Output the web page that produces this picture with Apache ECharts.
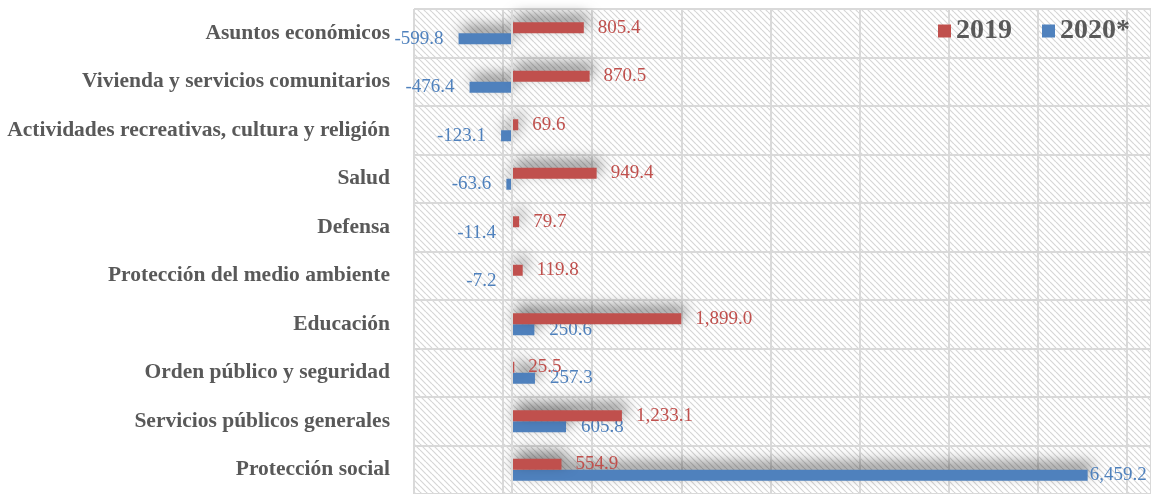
<!DOCTYPE html>
<html>
<head>
<meta charset="utf-8">
<script src="https://cdn.jsdelivr.net/npm/echarts@6/dist/echarts.min.js"></script>
<style>
  html, body { margin: 0; padding: 0; background: #fff; }
  #chart { width: 1151px; height: 494px; }
</style>
</head>
<body>
<div id="chart"></div>
<script>
// categories, top to bottom
const categories = [
    'Asuntos económicos',
    'Vivienda y servicios comunitarios',
    'Actividades recreativas, cultura y religión',
    'Salud',
    'Defensa',
    'Protección del medio ambiente',
    'Educación',
    'Orden público y seguridad',
    'Servicios públicos generales',
    'Protección social'
]
const values2019 = [805.4, 870.5, 69.6, 949.4, 79.7, 119.8, 1899.0, 25.5, 1233.1, 554.9]
const values2020 = [-599.8, -476.4, -123.1, -63.6, -11.4, -7.2, 250.6, 257.3, 605.8, 6459.2]
const seriesNames = ['2019', '2020*']

const SERIF = '"Liberation Serif", "Times New Roman", serif'
const RED = '#C0504D'
const BLUE = '#4F81BD'
const GRID_GRAY = '#d9d9d9'

// diagonal hatch for the plot background
function makeHatch() {
    const size = 6
    const c = document.createElement('canvas')
    c.width = size
    c.height = size
    const ctx = c.getContext('2d')
    ctx.fillStyle = '#fff'
    ctx.fillRect(0, 0, size, size)
    ctx.strokeStyle = '#d6d6d6'
    ctx.lineWidth = 1.2
    for (let k = -1; k <= 1; k++) {
        ctx.beginPath()
        ctx.moveTo(k * size, 0)
        ctx.lineTo(k * size + size, size)
        ctx.stroke()
    }
    return c
}

function fmt(v) {
    return v.toLocaleString('en-US', { minimumFractionDigits: 1, maximumFractionDigits: 1 })
}

const barShadow = {
    shadowBlur: 14,
    shadowColor: 'rgba(0,0,0,0.5)',
    shadowOffsetX: 4,
    shadowOffsetY: -7
}

const chart = echarts.init(document.getElementById('chart'))

chart.setOption({
    animation: false,
    legend: {
        data: seriesNames,
        right: 16,
        top: 12,
        icon: 'rect',
        itemWidth: 13,
        itemHeight: 13,
        itemGap: 30,
        textStyle: { fontFamily: SERIF, fontSize: 28, fontWeight: 'bold', color: '#595959' },
        itemStyle: { shadowBlur: 0, shadowOffsetX: 0, shadowOffsetY: 0, shadowColor: 'transparent' }
    },
    grid: {
        left: 414,
        right: -4,
        top: 9,
        bottom: -1,
        show: true,
        borderWidth: 0,
        backgroundColor: { image: makeHatch(), repeat: 'repeat' }
    },
    xAxis: {
        type: 'value',
        min: -1100,
        max: 7170,
        interval: 1000,
        axisLabel: { show: false },
        axisLine: { show: false },
        axisTick: { show: false },
        splitLine: { lineStyle: { color: GRID_GRAY, width: 2 } }
    },
    yAxis: {
        type: 'category',
        inverse: true,
        data: categories,
        axisLine: { show: false },
        axisTick: { show: false },
        axisLabel: {
            margin: 24,
            fontFamily: SERIF,
            fontSize: 21.5,
            fontWeight: 'bold',
            color: '#595959'
        },
        splitLine: { show: true, lineStyle: { color: GRID_GRAY, width: 2 } }
    },
    series: [
        {
            name: seriesNames[0],
            type: 'bar',
            z: 3,
            barWidth: 11,
            barGap: '0%',
            data: values2019,
            itemStyle: Object.assign({ color: RED }, barShadow),
            label: {
                show: true,
                position: 'right',
                distance: 14,
                fontFamily: SERIF,
                fontSize: 19,
                color: RED,
                formatter: p => fmt(p.value)
            },
            markLine: {
                silent: true,
                symbol: ['none', 'none'],
                label: { show: false },
                lineStyle: { color: GRID_GRAY, width: 2, type: 'solid' },
                data: [{ xAxis: 0 }]
            }
        },
        {
            name: seriesNames[1],
            type: 'bar',
            z: 2,
            barWidth: 11,
            data: values2020.map(v => ({
                value: v,
                label: { position: v < 0 ? 'left' : 'right', distance: v > 6000 ? 2 : 15 }
            })),
            itemStyle: Object.assign({ color: BLUE }, barShadow),
            label: {
                show: true,
                fontFamily: SERIF,
                fontSize: 19,
                color: BLUE,
                formatter: p => fmt(p.value)
            }
        }
    ]
})
</script>
</body>
</html>
